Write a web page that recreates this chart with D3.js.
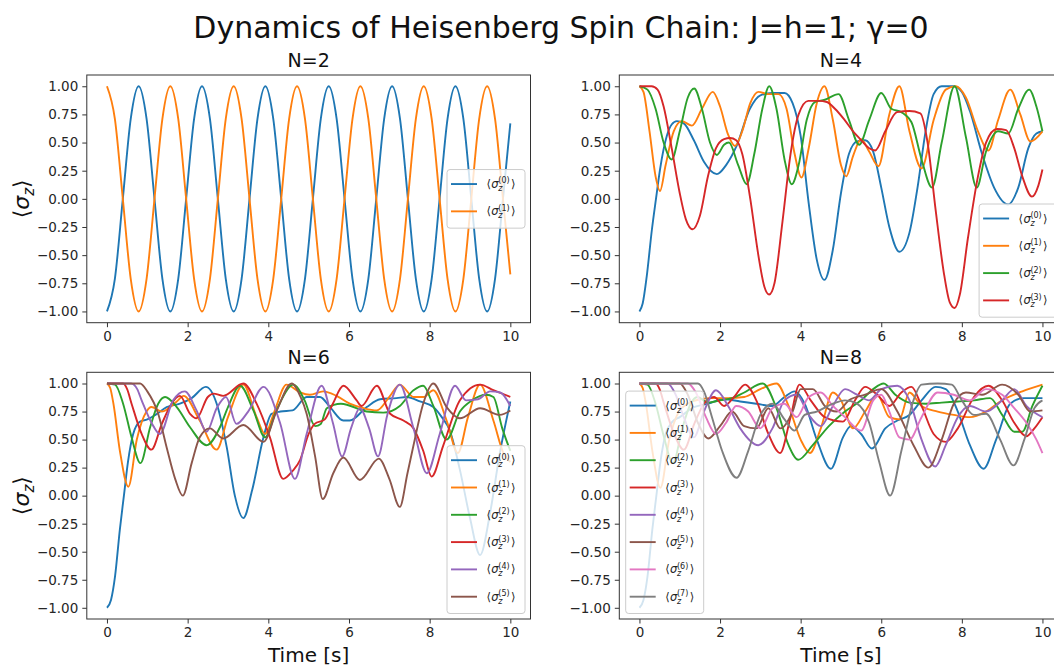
<!DOCTYPE html>
<html>
<head>
<meta charset="utf-8">
<script src="https://cdn.jsdelivr.net/npm/d3@7"></script>
<style>
  body { margin: 0; background: #fff; }
  svg { display: block; font-family: "DejaVu Sans", sans-serif; }
</style>
</head>
<body>
<svg id="chart" width="1054" height="668"></svg>
<script>
// ---------- data ----------
const chartTitle = "Dynamics of Heisenberg Spin Chain: J=h=1; \u03B3=0";
const panelTitles = ["N=2", "N=4", "N=6", "N=8"];
const xTicks = [0, 2, 4, 6, 8, 10];
const yTicks = [-1, -0.75, -0.5, -0.25, 0, 0.25, 0.5, 0.75, 1];
const colors = ["#1f77b4", "#ff7f0e", "#2ca02c", "#d62728", "#9467bd", "#8c564b", "#e377c2", "#7f7f7f"];

// N=2: sampled every eighth of a period
const tN2 = [0,0.196,0.393,0.589,0.785,0.982,1.178,1.374,1.571,1.767,1.963,2.160,2.356,2.553,2.749,2.945,3.142,3.338,3.534,3.731,3.927,4.123,4.320,4.516,4.712,4.909,5.105,5.301,5.498,5.694,5.890,6.087,6.283,6.480,6.676,6.872,7.069,7.265,7.461,7.658,7.854,8.050,8.247,8.443,8.639,8.836,9.032,9.228,9.425,9.621,9.817,10];
const n2s0 = [-1,-0.71,0,0.71,1,0.71,0,-0.71, -1,-0.71,0,0.71,1,0.71,0,-0.71, -1,-0.71,0,0.71,1,0.71,0,-0.71, -1,-0.71,0,0.71,1,0.71,0,-0.71, -1,-0.71,0,0.71,1,0.71,0,-0.71, -1,-0.71,0,0.71,1,0.71,0,-0.71, -1,-0.71,0,0.67];
const n2s1 = [1,0.71,0,-0.71,-1,-0.71,0,0.71, 1,0.71,0,-0.71,-1,-0.71,0,0.71, 1,0.71,0,-0.71,-1,-0.71,0,0.71, 1,0.71,0,-0.71,-1,-0.71,0,0.71, 1,0.71,0,-0.71,-1,-0.71,0,0.71, 1,0.71,0,-0.71,-1,-0.71,0,0.71, 1,0.71,0,-0.67];

// N=4: [time, <sigma_z>]
const n4s0 = [[0,-1],[0.08,-0.93],[0.18,-0.69],[0.31,-0.27],[0.41,0.0],[0.51,0.26],[0.68,0.56],[0.8,0.66],[0.93,0.69],[1.1,0.67],[1.35,0.52],[1.6,0.33],[1.92,0.22],[2.15,0.3],[2.41,0.47],[2.74,0.8],[3.0,0.92],[3.3,0.94],[3.6,0.94],[3.8,0.85],[4.0,0.56],[4.2,-0.04],[4.4,-0.54],[4.59,-0.72],[4.8,-0.45],[5.0,0.05],[5.2,0.4],[5.4,0.51],[5.6,0.52],[5.8,0.42],[6.0,0.1],[6.2,-0.25],[6.45,-0.47],[6.7,-0.3],[6.9,0.1],[7.1,0.6],[7.3,0.93],[7.5,1.0],[7.8,1.0],[8.0,0.95],[8.2,0.78],[8.5,0.4],[8.8,0.1],[9.15,-0.05],[9.4,0.1],[9.65,0.45],[9.85,0.58],[10,0.6]];
const n4s1 = [[0,1],[0.1,0.95],[0.25,0.6],[0.4,0.2],[0.51,0.07],[0.65,0.3],[0.85,0.6],[1.05,0.69],[1.3,0.65],[1.55,0.8],[1.82,0.95],[2.0,0.82],[2.2,0.57],[2.37,0.47],[2.55,0.6],[2.75,0.85],[2.95,0.95],[3.2,0.93],[3.45,0.93],[3.65,0.8],[3.85,0.4],[4.02,0.19],[4.2,0.45],[4.4,0.85],[4.59,1.0],[4.8,0.7],[5.0,0.3],[5.13,0.2],[5.3,0.38],[5.5,0.53],[5.7,0.42],[5.93,0.29],[6.2,0.75],[6.45,1.0],[6.7,0.6],[7.0,0.27],[7.3,0.7],[7.6,0.97],[7.85,1.0],[8.1,0.9],[8.4,0.6],[8.66,0.43],[8.9,0.7],[9.2,0.97],[9.45,0.75],[9.7,0.51],[10,0.6]];
const n4s2 = [[0,1],[0.2,0.97],[0.4,0.8],[0.6,0.5],[0.8,0.35],[1.0,0.6],[1.2,0.9],[1.36,0.98],[1.55,0.8],[1.75,0.5],[1.92,0.39],[2.1,0.48],[2.22,0.5],[2.45,0.3],[2.66,0.13],[2.85,0.4],[3.05,0.8],[3.22,1.0],[3.4,0.8],[3.6,0.35],[3.78,0.13],[3.95,0.3],[4.15,0.7],[4.35,0.86],[4.6,0.88],[4.94,0.93],[5.2,0.7],[5.45,0.48],[5.7,0.7],[6.0,0.94],[6.25,0.8],[6.5,0.77],[6.75,0.68],[7.0,0.35],[7.26,0.1],[7.5,0.5],[7.82,1.0],[8.1,0.55],[8.37,0.1],[8.6,0.42],[8.9,0.6],[9.15,0.58],[9.4,0.8],[9.67,0.97],[9.85,0.82],[10,0.6]];
const n4s3 = [[0,1],[0.3,1],[0.45,0.97],[0.6,0.82],[0.8,0.45],[1.0,0.05],[1.15,-0.18],[1.32,-0.27],[1.5,-0.15],[1.7,0.2],[1.9,0.45],[2.1,0.53],[2.25,0.54],[2.4,0.52],[2.55,0.4],[2.75,0.0],[2.95,-0.5],[3.1,-0.78],[3.22,-0.85],[3.35,-0.75],[3.55,-0.2],[3.75,0.4],[3.95,0.75],[4.19,0.87],[4.45,0.87],[4.65,0.86],[4.85,0.8],[5.07,0.71],[5.3,0.6],[5.48,0.53],[5.7,0.45],[5.85,0.43],[6.1,0.6],[6.39,0.77],[6.7,0.78],[6.97,0.76],[7.15,0.5],[7.35,-0.1],[7.55,-0.65],[7.7,-0.92],[7.82,-0.97],[7.95,-0.85],[8.15,-0.35],[8.4,0.2],[8.6,0.5],[8.87,0.62],[9.1,0.61],[9.3,0.45],[9.5,0.2],[9.74,0.02],[9.9,0.12],[10,0.26]];

// N=6
const n6s0 = [[0,-1],[0.1,-0.93],[0.2,-0.72],[0.32,-0.3],[0.42,0.0],[0.52,0.3],[0.65,0.55],[0.82,0.66],[1.0,0.68],[1.2,0.72],[1.48,0.79],[1.81,0.82],[2.1,0.87],[2.45,0.97],[2.72,0.82],[2.97,0.43],[3.17,0.0],[3.38,-0.2],[3.6,0.05],[3.88,0.52],[4.08,0.73],[4.3,0.75],[4.6,0.76],[4.95,0.88],[5.28,0.88],[5.53,0.79],[5.86,0.67],[6.02,0.67],[6.44,0.79],[6.77,0.86],[7.18,0.87],[7.43,0.88],[7.76,0.84],[8.09,0.79],[8.3,0.7],[8.5,0.58],[8.75,0.23],[9.0,-0.2],[9.25,-0.53],[9.5,-0.15],[9.74,0.38],[10,0.84]];
const n6s1 = [[0,1],[0.08,0.96],[0.16,0.82],[0.32,0.4],[0.53,0.08],[0.74,0.5],[0.98,0.75],[1.1,0.79],[1.36,0.75],[1.73,0.84],[1.9,0.89],[2.3,0.67],[2.72,0.41],[3.0,0.7],[3.38,0.99],[3.71,0.7],[3.92,0.55],[4.15,0.75],[4.45,0.99],[4.79,0.92],[5.03,0.9],[5.36,0.93],[5.69,0.89],[6.02,0.82],[6.36,0.78],[6.69,0.76],[7.0,0.88],[7.26,0.99],[7.6,0.88],[7.85,0.88],[8.09,0.94],[8.42,0.67],[8.7,0.38],[8.95,0.7],[9.25,0.99],[9.58,0.67],[9.83,0.38],[10,0.3]];
const n6s2 = [[0,1],[0.2,0.99],[0.4,0.82],[0.61,0.52],[0.83,0.29],[1.07,0.61],[1.27,0.82],[1.44,0.88],[1.73,0.79],[2.06,0.61],[2.47,0.45],[2.8,0.61],[3.0,0.79],[3.3,0.98],[3.63,0.76],[3.92,0.52],[4.2,0.76],[4.62,0.99],[4.9,0.85],[5.16,0.62],[5.3,0.64],[5.45,0.78],[5.8,0.82],[6.44,0.75],[6.85,0.74],[7.26,0.8],[7.6,0.94],[7.84,0.98],[8.09,0.8],[8.42,0.5],[8.75,0.75],[9.05,0.85],[9.4,0.9],[9.58,0.88],[9.8,0.6],[10,0.4]];
const n6s3 = [[0,1],[0.4,1],[0.5,0.95],[0.61,0.82],[0.86,0.55],[1.1,0.41],[1.36,0.64],[1.6,0.82],[1.81,0.89],[2.06,0.73],[2.22,0.69],[2.5,0.88],[2.64,0.91],[2.88,0.89],[3.38,1.0],[3.71,0.82],[4.04,0.52],[4.37,0.15],[4.6,0.22],[4.79,0.32],[5.0,0.55],[5.15,0.64],[5.4,0.68],[5.6,0.82],[5.86,0.98],[6.19,0.85],[6.31,0.8],[6.69,0.98],[7.02,0.73],[7.35,0.67],[7.6,0.6],[7.84,0.4],[8.05,0.17],[8.33,0.44],[8.75,0.85],[9.25,0.99],[9.58,0.94],[10,0.88]];
const n6s4 = [[0,1],[0.6,1],[0.75,0.95],[0.86,0.85],[1.15,0.62],[1.31,0.55],[1.64,0.85],[1.93,0.93],[2.22,0.76],[2.47,0.57],[2.72,0.78],[2.95,0.88],[3.21,0.64],[3.5,0.75],[3.88,0.97],[4.29,0.65],[4.66,0.15],[4.95,0.55],[5.32,0.98],[5.6,0.65],[5.83,0.35],[6.05,0.6],[6.27,0.78],[6.5,0.6],[6.72,0.35],[6.95,0.72],[7.26,0.99],[7.6,0.6],[7.93,0.2],[8.25,0.55],[8.63,0.98],[8.9,0.85],[9.2,0.86],[9.5,0.93],[9.75,0.92],[10,0.8]];
const n6s5 = [[0,1],[0.82,1],[1.0,0.93],[1.27,0.73],[1.48,0.43],[1.69,0.15],[1.88,0.0],[2.1,0.29],[2.3,0.52],[2.55,0.6],[2.88,0.51],[3.38,0.63],[3.88,0.48],[4.2,0.75],[4.58,1.0],[4.8,0.88],[4.95,0.73],[5.16,0.35],[5.35,-0.03],[5.61,0.2],[5.86,0.34],[6.27,0.14],[6.74,0.33],[7.0,0.15],[7.26,-0.1],[7.45,0.2],[7.6,0.45],[7.84,0.82],[8.09,1.0],[8.42,0.79],[8.75,0.69],[9.25,0.78],[9.74,0.72],[10,0.76]];

// N=8
const n8s0 = [[0,-1],[0.1,-0.93],[0.2,-0.72],[0.32,-0.3],[0.42,0.0],[0.52,0.3],[0.65,0.55],[0.82,0.66],[1.0,0.7],[1.3,0.78],[1.7,0.82],[2.1,0.86],[2.5,0.84],[2.9,0.82],[3.3,0.8],[3.6,0.88],[3.85,0.93],[4.1,0.82],[4.4,0.5],[4.75,0.24],[5.05,0.52],[5.25,0.62],[5.5,0.55],[5.77,0.42],[6.1,0.6],[6.4,0.67],[6.7,0.72],[7.0,0.85],[7.35,0.97],[7.6,0.95],[7.9,0.75],[8.2,0.45],[8.54,0.24],[8.85,0.5],[9.2,0.82],[9.53,0.87],[10,0.87]];
const n8s1 = [[0,1],[0.08,0.96],[0.16,0.82],[0.32,0.4],[0.52,0.07],[0.74,0.5],[0.98,0.75],[1.2,0.82],[1.5,0.86],[1.8,0.87],[2.2,0.87],[2.6,0.88],[3.0,0.95],[3.4,1.0],[3.7,0.8],[4.0,0.5],[4.23,0.38],[4.5,0.6],[4.8,0.92],[5.0,0.85],[5.3,0.6],[5.6,0.75],[5.9,0.9],[6.2,0.7],[6.45,0.68],[6.7,0.92],[7.0,0.8],[7.4,0.75],[7.8,0.72],[8.2,0.7],[8.6,0.75],[9.0,0.85],[9.5,0.93],[10,0.99]];
const n8s2 = [[0,1],[0.2,0.99],[0.4,0.82],[0.61,0.52],[0.83,0.29],[1.07,0.61],[1.27,0.82],[1.44,0.88],[1.7,0.83],[2.0,0.85],[2.3,0.87],[2.6,0.92],[3.06,1.0],[3.4,0.78],[3.7,0.45],[3.94,0.32],[4.3,0.45],[4.7,0.62],[5.1,0.75],[5.5,0.85],[5.8,0.95],[6.06,1.0],[6.35,0.9],[6.7,0.83],[7.1,0.82],[7.5,0.83],[7.9,0.84],[8.3,0.85],[8.7,0.87],[9.0,0.72],[9.3,0.57],[9.5,0.57],[9.75,0.8],[10,0.98]];
const n8s3 = [[0,1],[0.4,1],[0.5,0.95],[0.61,0.82],[0.86,0.55],[1.1,0.41],[1.36,0.64],[1.6,0.82],[1.85,0.88],[2.1,0.8],[2.35,0.88],[2.62,0.99],[2.9,0.85],[3.2,0.55],[3.49,0.38],[3.75,0.7],[3.97,0.99],[4.25,0.85],[4.6,0.7],[5.05,0.66],[5.35,0.85],[5.6,0.97],[5.9,0.9],[6.2,0.8],[6.5,0.92],[6.75,0.97],[7.0,0.8],[7.3,0.55],[7.6,0.48],[7.9,0.6],[8.3,0.88],[8.66,0.98],[9.0,0.85],[9.3,0.65],[9.6,0.53],[9.8,0.6],[10,0.7]];
const n8s4 = [[0,1],[0.7,1],[0.9,0.9],[1.1,0.7],[1.35,0.52],[1.6,0.75],[1.9,0.94],[2.2,0.8],[2.5,0.6],[2.95,0.45],[3.3,0.6],[3.6,0.85],[3.9,0.9],[4.2,0.72],[4.5,0.62],[4.8,0.8],[5.1,0.95],[5.4,0.9],[5.7,0.85],[6.0,0.95],[6.4,0.98],[6.7,0.85],[7.0,0.5],[7.34,0.26],[7.6,0.45],[7.9,0.7],[8.2,0.8],[8.6,0.75],[9.0,0.85],[9.3,0.95],[9.6,0.8],[10,0.7]];
const n8s5 = [[0,1],[1.0,1],[1.2,0.9],[1.45,0.65],[1.71,0.51],[2.0,0.62],[2.3,0.75],[2.6,0.62],[2.9,0.6],[3.2,0.78],[3.5,0.6],[3.8,0.75],[4.0,0.95],[4.3,0.95],[4.6,0.8],[4.9,0.75],[5.2,0.85],[5.6,0.9],[6.0,0.95],[6.4,0.75],[6.8,0.45],[7.17,0.25],[7.5,0.5],[7.8,0.82],[8.1,0.92],[8.5,0.9],[9.0,0.99],[9.4,0.9],[9.7,0.75],[10,0.76]];
const n8s6 = [[0,1],[1.2,1],[1.4,0.92],[1.65,0.7],[1.9,0.55],[2.15,0.65],[2.4,0.8],[2.7,0.75],[3.0,0.6],[3.3,0.78],[3.6,0.82],[3.9,0.7],[4.2,0.88],[4.5,0.92],[4.8,0.8],[5.1,0.7],[5.5,0.58],[5.8,0.85],[6.0,0.9],[6.2,0.75],[6.45,0.52],[6.7,0.5],[7.0,0.7],[7.4,0.92],[7.8,0.9],[8.2,0.85],[8.6,0.95],[9.0,0.9],[9.3,0.78],[9.6,0.65],[9.85,0.5],[10,0.38]];
const n8s7 = [[0,1],[1.45,1],[1.6,0.93],[1.8,0.7],[2.05,0.4],[2.41,0.16],[2.7,0.4],[3.0,0.72],[3.3,0.82],[3.6,0.68],[3.85,0.58],[4.1,0.72],[4.4,0.75],[4.8,0.82],[5.1,0.85],[5.4,0.82],[5.7,0.65],[5.95,0.3],[6.22,0.0],[6.5,0.4],[6.8,0.85],[7.0,0.99],[7.4,1.0],[7.75,0.99],[8.0,0.85],[8.3,0.72],[8.6,0.73],[8.95,0.5],[9.28,0.27],[9.55,0.5],[9.8,0.78],[10,0.85]];

// ---------- layout ----------
const svg = d3.select("#chart");
const W = 1054, H = 668;
svg.append("rect").attr("width", W).attr("height", H).attr("fill", "#fff");

const colX = [[86.8, 530.5], [619.3, 1062.6]];
const rowY = [[75, 322.7], [372.3, 619]];

const panels = [
  { title: panelTitles[0], col: 0, row: 0, legend: "center right",
    series: [tN2.map((t, i) => [t, n2s0[i]]), tN2.map((t, i) => [t, n2s1[i]])] },
  { title: panelTitles[1], col: 1, row: 0, legend: "lower right", series: [n4s0, n4s1, n4s2, n4s3] },
  { title: panelTitles[2], col: 0, row: 1, legend: "lower right", series: [n6s0, n6s1, n6s2, n6s3, n6s4, n6s5] },
  { title: panelTitles[3], col: 1, row: 1, legend: "lower left", series: [n8s0, n8s1, n8s2, n8s3, n8s4, n8s5, n8s6, n8s7] }
];

svg.append("text")
  .attr("x", 561).attr("y", 38)
  .attr("text-anchor", "middle")
  .attr("font-size", 30).attr("fill", "#111")
  .text(chartTitle);

const fmt = d3.format(".2f");

function legendLabel(g, x, y, k) {
  const fs = 11.5;
  g.append("text").attr("x", x).attr("y", y).attr("font-size", fs).attr("fill", "#222").text("\u27E8");
  g.append("text").attr("x", x + 4.8).attr("y", y).attr("font-size", fs).attr("font-style", "italic").attr("fill", "#222").text("\u03C3");
  g.append("text").attr("x", x + 11.8).attr("y", y + 3).attr("font-size", 8).attr("font-style", "italic").attr("fill", "#222").text("z");
  g.append("text").attr("x", x + 11.8).attr("y", y - 4.6).attr("font-size", 8).attr("fill", "#222").text("(" + k + ")");
  g.append("text").attr("x", x + 24.5).attr("y", y).attr("font-size", fs).attr("fill", "#222").text("\u27E9");
}

panels.forEach((p, pi) => {
  const [x0, x1] = colX[p.col];
  const [y0, y1] = rowY[p.row];
  const x = d3.scaleLinear().domain([-0.5, 10.5]).range([x0, x1]);
  const y = d3.scaleLinear().domain([-1.1, 1.1]).range([y1, y0]);
  const g = svg.append("g");

  const clipId = "clip" + pi;
  svg.append("clipPath").attr("id", clipId)
    .append("rect").attr("x", x0).attr("y", y0).attr("width", x1 - x0).attr("height", y1 - y0);

  // axes
  const xAxis = d3.axisBottom(x).tickValues(xTicks).tickSize(4.5).tickSizeOuter(0).tickPadding(4).tickFormat(d3.format("d"));
  const yAxis = d3.axisLeft(y).tickValues(yTicks).tickSize(4.5).tickSizeOuter(0).tickPadding(4).tickFormat(fmt);
  const gx = g.append("g").attr("transform", `translate(0,${y1})`).call(xAxis);
  const gy = g.append("g").attr("transform", `translate(${x0},0)`).call(yAxis);
  [gx, gy].forEach(a => {
    a.select(".domain").remove();
    a.selectAll("line").attr("stroke", "#333").attr("stroke-width", 1);
    a.selectAll("text").attr("font-size", 13.5).attr("fill", "#262626").attr("font-family", "DejaVu Sans");
  });

  // curves
  const line = d3.line().x(d => x(d[0])).y(d => y(d[1])).curve(d3.curveMonotoneX);
  const lg = g.append("g").attr("clip-path", `url(#${clipId})`);
  p.series.forEach((s, i) => {
    lg.append("path").attr("d", line(s)).attr("fill", "none")
      .attr("stroke", colors[i]).attr("stroke-width", 1.9).attr("stroke-linejoin", "round");
  });

  // frame
  g.append("rect").attr("x", x0).attr("y", y0).attr("width", x1 - x0).attr("height", y1 - y0)
    .attr("fill", "none").attr("stroke", "#333").attr("stroke-width", 1);

  // panel title
  g.append("text").attr("x", (x0 + x1) / 2).attr("y", y0 - 8).attr("text-anchor", "middle")
    .attr("font-size", 19).attr("fill", "#111").text(p.title);

  // legend
  const n = p.series.length;
  const lw = 78, lh = n * 27.3 + 4, step = 27.3;
  let lx, ly;
  if (p.legend === "center right") { lx = x1 - 5.5 - lw; ly = (y0 + y1) / 2 - lh / 2; }
  else if (p.legend === "lower right") { lx = x1 - 5.5 - lw; ly = y1 - 5.5 - lh; }
  else { lx = x0 + 6.4; ly = y1 - 5.5 - lh; }
  const leg = g.append("g");
  leg.append("rect").attr("x", lx).attr("y", ly).attr("width", lw).attr("height", lh)
    .attr("rx", 3).attr("fill", "#fff").attr("fill-opacity", 0.8)
    .attr("stroke", "#ccc").attr("stroke-width", 1);
  for (let i = 0; i < n; i++) {
    const cy = ly + 14.5 + i * step;
    leg.append("line").attr("x1", lx + 4).attr("x2", lx + 30).attr("y1", cy).attr("y2", cy)
      .attr("stroke", colors[i]).attr("stroke-width", 1.9);
    legendLabel(leg, lx + 39.5, cy + 4, i);
  }

  // axis labels
  if (p.col === 0) {
    const yl = svg.append("text")
      .attr("transform", `translate(29,${(y0 + y1) / 2}) rotate(-90)`)
      .attr("text-anchor", "middle").attr("font-size", 22).attr("fill", "#111");
    yl.append("tspan").text("\u27E8");
    yl.append("tspan").attr("font-style", "italic").text("\u03C3");
    yl.append("tspan").attr("font-style", "italic").attr("font-size", 15).attr("dy", 4.5).text("z");
    yl.append("tspan").attr("dy", -4.5).text("\u27E9");
  }
  if (p.row === 1) {
    svg.append("text").attr("x", (x0 + x1) / 2).attr("y", 662).attr("text-anchor", "middle")
      .attr("font-size", 20).attr("fill", "#111").text("Time [s]");
  }
});
</script>
</body>
</html>
